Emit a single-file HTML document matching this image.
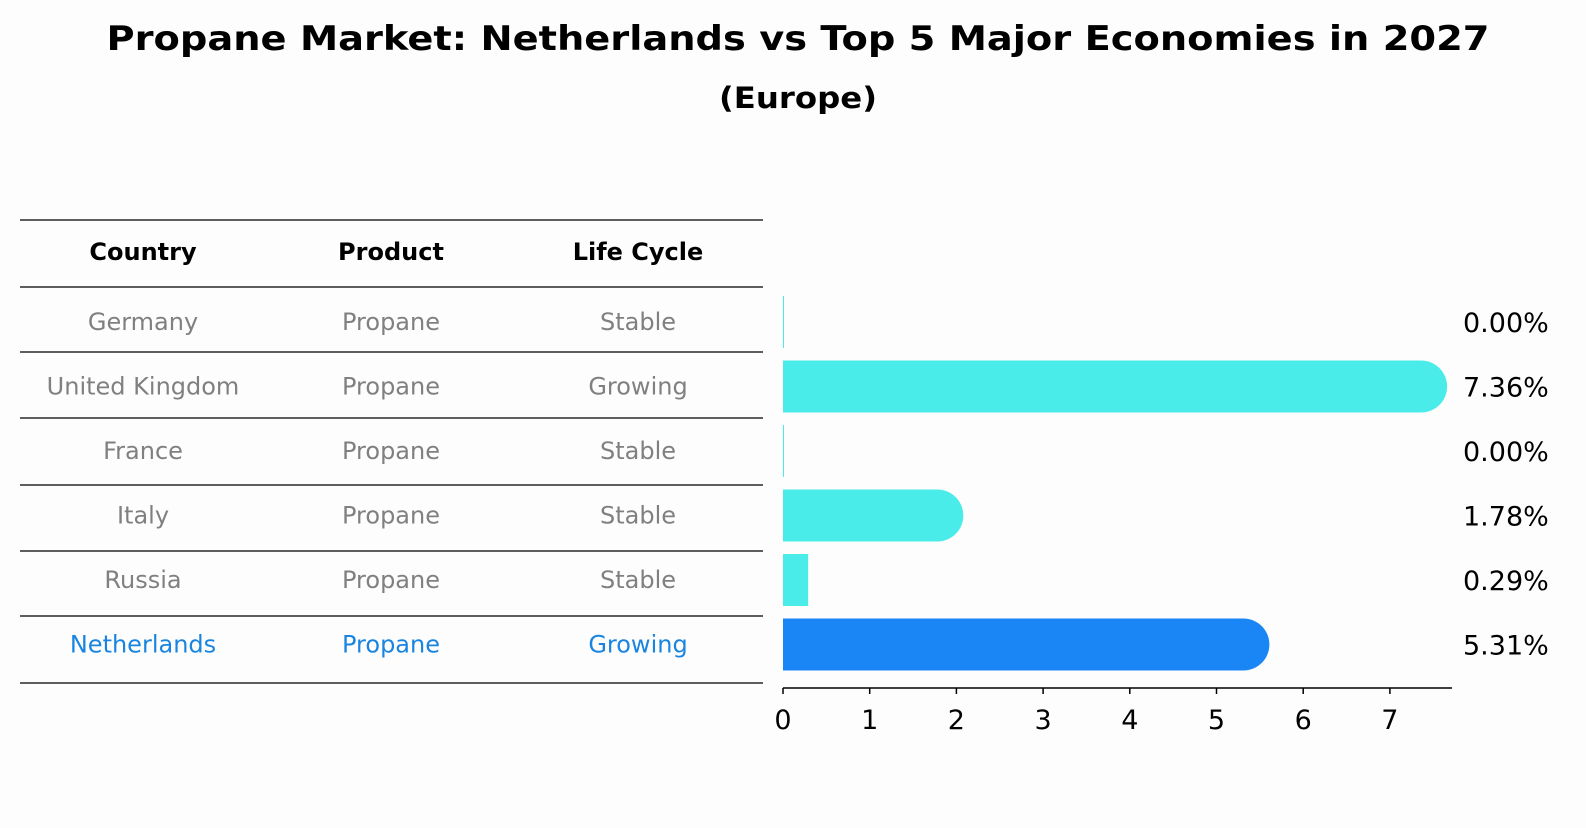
<!DOCTYPE html>
<html><head><meta charset="utf-8"><style>
body{margin:0;background:#fdfdfd;font-family:"Liberation Sans","DejaVu Sans",sans-serif;}
svg text{font-family:"DejaVu Sans","Liberation Sans",sans-serif;}
</style></head><body>
<svg width="1586" height="823" viewBox="0 0 1586 823" xmlns="http://www.w3.org/2000/svg">
<rect width="1586" height="823" fill="#fdfdfd"/>
<text x="798" y="50" text-anchor="middle" font-size="34" font-weight="bold" textLength="1383" lengthAdjust="spacingAndGlyphs">Propane Market: Netherlands vs Top 5 Major Economies in 2027</text>
<text x="798" y="108" text-anchor="middle" font-size="29" font-weight="bold" textLength="158" lengthAdjust="spacingAndGlyphs">(Europe)</text>
<g id="table"></g>
<g id="bars"></g>
</svg>
<script>
const countries=["Germany","United Kingdom","France","Italy","Russia","Netherlands"];
const products=["Propane","Propane","Propane","Propane","Propane","Propane"];
const lifeCycles=["Stable","Growing","Stable","Stable","Stable","Growing"];
const values=[0.00,7.36,0.00,1.78,0.29,5.31];
const valueLabels=["0.00%","7.36%","0.00%","1.78%","0.29%","5.31%"];
const xTicks=[0,1,2,3,4,5,6,7];
const NS="http://www.w3.org/2000/svg";
function mk(tag,attrs,parent){const e=document.createElementNS(NS,tag);for(const k in attrs)e.setAttribute(k,attrs[k]);parent.appendChild(e);return e;}
const table=document.getElementById('table'),bars=document.getElementById('bars');
const lineYs=[220,287,352,418,485,551,616,683];
lineYs.forEach(y=>{const l=mk('line',{x1:20,x2:763,y1:y,y2:y,stroke:'#000','stroke-width':1.2},table);

});
const colX=[143,391,638];
["Country","Product","Life Cycle"].forEach((h,i)=>{const t=mk('text',{x:colX[i],y:260,'text-anchor':'middle','font-size':24,'font-weight':'bold'},table);t.textContent=h;

});
const rowY=i=>322+i*64.5;
const xs=v=>783+v*86.7;
countries.forEach((c,i)=>{const hl=i===countries.length-1;const col=hl?'#1a85e0':'#808080';
[c,products[i],lifeCycles[i]].forEach((v,j)=>{const t=mk('text',{x:colX[j],y:rowY(i)+8,'text-anchor':'middle','font-size':24,fill:col},table);t.textContent=v;

});
const fill=hl?'#1a85f5':'#4aecea';const h=52,y=rowY(i)-h/2;const w=Math.max(xs(values[i])-783,1);
const r=mk('rect',{x:783,y:y,width:w,height:h,fill:fill},bars);


if(values[i]>1){const cap=mk('circle',{cx:xs(values[i]),cy:rowY(i),r:h/2,fill:fill},bars);

}
const t=mk('text',{x:1463,y:rowY(i)+10,'font-size':27},bars);t.textContent=valueLabels[i];

});
const ax=mk('line',{x1:783,x2:1452,y1:688,y2:688,stroke:'#000','stroke-width':1.5},bars);


xTicks.forEach(v=>{const tk=mk('line',{x1:xs(v),x2:xs(v),y1:688,y2:694,stroke:'#000','stroke-width':1.5},bars);


const t=mk('text',{x:xs(v),y:729,'text-anchor':'middle','font-size':27},bars);t.textContent=v;

});
</script>
</body></html>
